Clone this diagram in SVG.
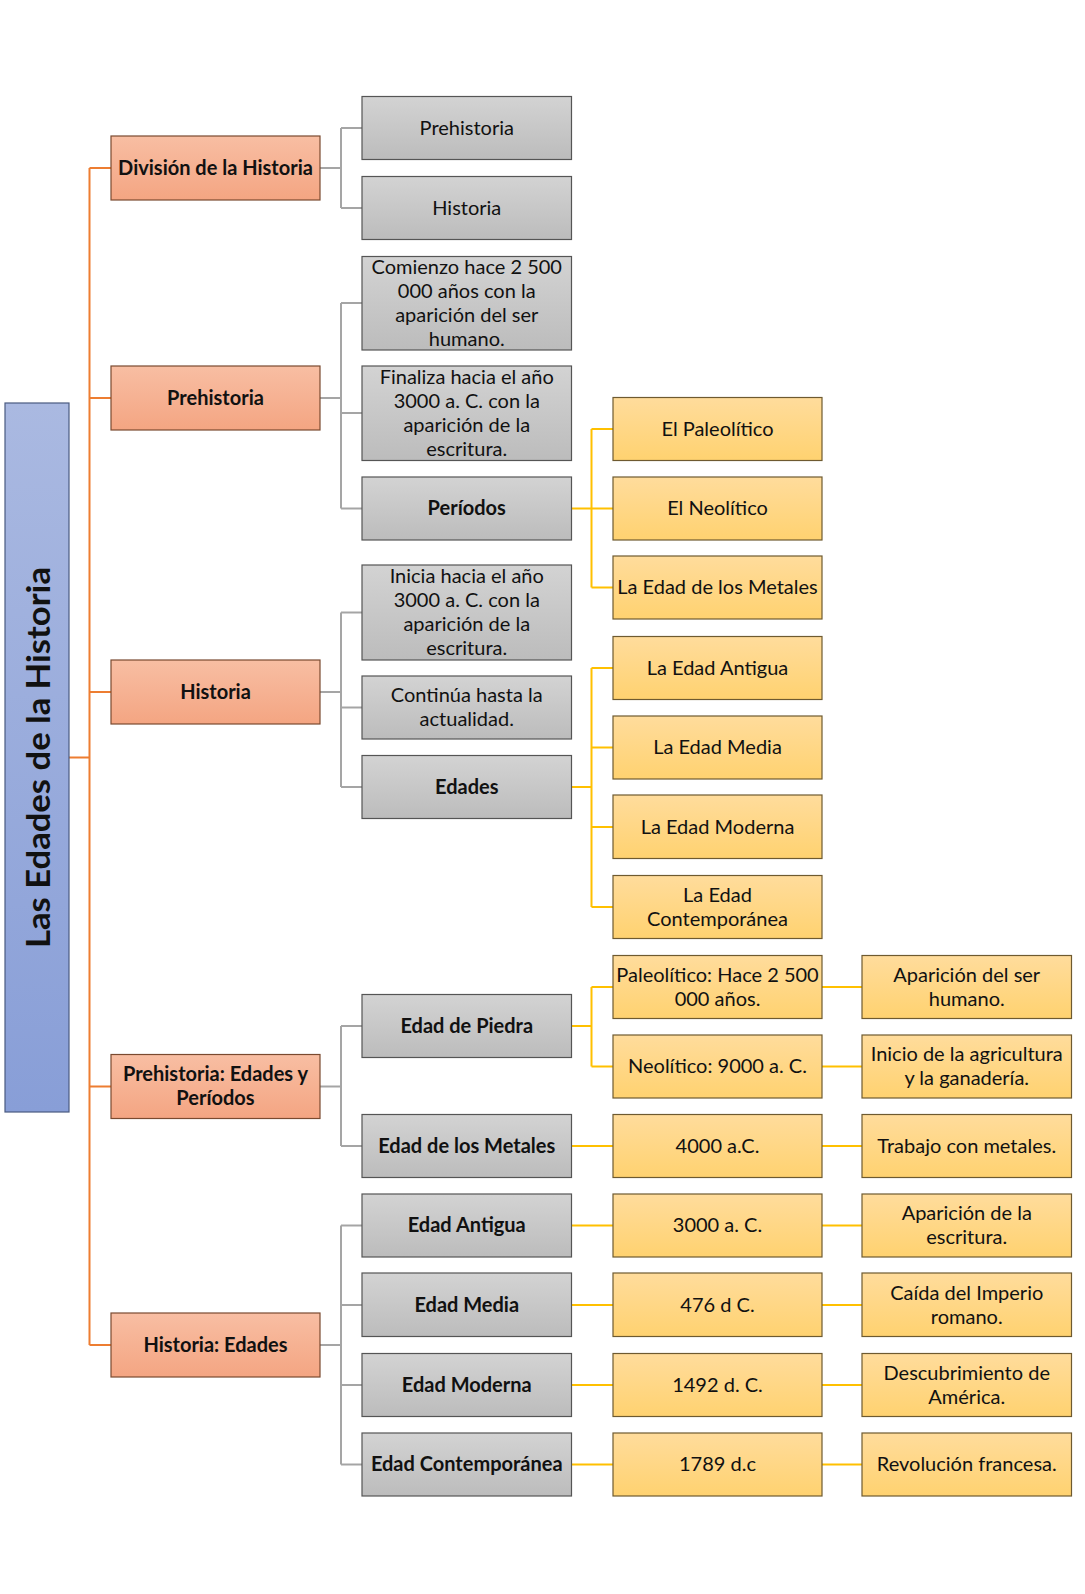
<svg xmlns="http://www.w3.org/2000/svg" width="1085" height="1594" viewBox="0 0 1085 1594">
<defs>
<linearGradient id="gBlue" x1="0" y1="0" x2="0" y2="1"><stop offset="0" stop-color="#AAB9E1"/><stop offset="1" stop-color="#889ED7"/></linearGradient>
<linearGradient id="gOrange" x1="0" y1="0" x2="0" y2="1"><stop offset="0" stop-color="#F8BEA3"/><stop offset="1" stop-color="#F4A582"/></linearGradient>
<linearGradient id="gGray" x1="0" y1="0" x2="0" y2="1"><stop offset="0" stop-color="#D3D3D3"/><stop offset="1" stop-color="#BCBCBC"/></linearGradient>
<linearGradient id="gYellow" x1="0" y1="0" x2="0" y2="1"><stop offset="0" stop-color="#FFDC9C"/><stop offset="1" stop-color="#FFD270"/></linearGradient>
<style>
text{font-family:Lato,"Open Sans","Liberation Sans",sans-serif;font-size:20px;fill:#111;text-anchor:middle;dominant-baseline:central}
text:not(.root){transform:translateY(-1.5px)}
.b{font-weight:bold}
.root{font-size:33px;font-weight:bold}
.blue{fill:url(#gBlue);stroke:#4A5A80;stroke-width:1.2}
.or{fill:url(#gOrange);stroke:#7A4A30;stroke-width:1.2}
.gr{fill:url(#gGray);stroke:#555;stroke-width:1.2}
.ye{fill:url(#gYellow);stroke:#6E5A30;stroke-width:1.2}
.co{fill:none;stroke:#ED7D31;stroke-width:2}
.cg{fill:none;stroke:#A5A5A5;stroke-width:2}
.cy{fill:none;stroke:#FFC000;stroke-width:2}
</style>
</defs>
<rect width="1085" height="1594" fill="#FFFFFF"/>
<g id="connectors">
<path class="co" d="M69 757.5H89.5M89.5 168V1345M89.5 168H111M89.5 398H111M89.5 692H111M89.5 1086.5H111M89.5 1345H111"/>
<path class="cg" d="M320 168H341M341 128V208M341 128H362M341 208H362"/>
<path class="cg" d="M320 398H341M341 303V508.5M341 303H362M341 413H362M341 508.5H362"/>
<path class="cg" d="M320 692H341M341 612.5V787M341 612.5H362M341 707.5H362M341 787H362"/>
<path class="cg" d="M320 1086.5H341M341 1026V1146M341 1026H362M341 1146H362"/>
<path class="cg" d="M320 1345H341M341 1225.5V1464.5M341 1225.5H362M341 1305H362M341 1385H362M341 1464.5H362"/>
<path class="cy" d="M571.5 508.5H591.5M591.5 429V587.5M591.5 429H613M591.5 508.5H613M591.5 587.5H613"/>
<path class="cy" d="M571.5 787H591.5M591.5 668V907M591.5 668H613M591.5 747.5H613M591.5 827H613M591.5 907H613"/>
<path class="cy" d="M571.5 1026H591.5M591.5 987V1066.5M591.5 987H613M591.5 1066.5H613"/>
<path class="cy" d="M571.5 1146H613M571.5 1225.5H613M571.5 1305H613M571.5 1385H613M571.5 1464.5H613"/>
<path class="cy" d="M822 987H862M822 1066.5H862M822 1146H862M822 1225.5H862M822 1305H862M822 1385H862M822 1464.5H862"/>
</g>
<g id="root"><rect class="blue" x="5" y="403" width="64" height="709"/><text class="root" transform="translate(36.5 757.5) rotate(-90)" textLength="381" lengthAdjust="spacingAndGlyphs">Las Edades de la Historia</text></g>
<g id="n-division"><rect class="or" x="111" y="136" width="209" height="64"/><text class="b" x="215.5" y="168">División de la Historia</text></g>
<g id="n-prehistoria"><rect class="or" x="111" y="366" width="209" height="64"/><text class="b" x="215.5" y="398">Prehistoria</text></g>
<g id="n-historia"><rect class="or" x="111" y="660" width="209" height="64"/><text class="b" x="215.5" y="692">Historia</text></g>
<g id="n-prehist-edades"><rect class="or" x="111" y="1054.5" width="209" height="64"/><text class="b" x="215.5" y="1074.5">Prehistoria: Edades y</text><text class="b" x="215.5" y="1098.5">Períodos</text></g>
<g id="n-hist-edades"><rect class="or" x="111" y="1313" width="209" height="64"/><text class="b" x="215.5" y="1345">Historia: Edades</text></g>

<g id="g-prehistoria"><rect class="gr" x="362" y="96.5" width="209.5" height="63"/><text x="466.75" y="128">Prehistoria</text></g>
<g id="g-historia"><rect class="gr" x="362" y="176.5" width="209.5" height="63"/><text x="466.75" y="208">Historia</text></g>
<g id="g-comienzo"><rect class="gr" x="362" y="256.5" width="209.5" height="93.5"/><text x="466.75" y="267">Comienzo hace 2 500</text><text x="466.75" y="291">000 años con la</text><text x="466.75" y="315">aparición del ser</text><text x="466.75" y="339">humano.</text></g>
<g id="g-finaliza"><rect class="gr" x="362" y="366" width="209.5" height="94.5"/><text x="466.75" y="377">Finaliza hacia el año</text><text x="466.75" y="401">3000 a. C. con la</text><text x="466.75" y="425">aparición de la</text><text x="466.75" y="449">escritura.</text></g>
<g id="g-periodos"><rect class="gr" x="362" y="477" width="209.5" height="63"/><text class="b" x="466.75" y="508.5">Períodos</text></g>
<g id="g-inicia"><rect class="gr" x="362" y="565" width="209.5" height="95"/><text x="466.75" y="576.5">Inicia hacia el año</text><text x="466.75" y="600.5">3000 a. C. con la</text><text x="466.75" y="624.5">aparición de la</text><text x="466.75" y="648.5">escritura.</text></g>
<g id="g-continua"><rect class="gr" x="362" y="676" width="209.5" height="63"/><text x="466.75" y="695.5">Continúa hasta la</text><text x="466.75" y="719.5">actualidad.</text></g>
<g id="g-edades"><rect class="gr" x="362" y="755.5" width="209.5" height="63"/><text class="b" x="466.75" y="787">Edades</text></g>
<g id="g-piedra"><rect class="gr" x="362" y="994.5" width="209.5" height="63"/><text class="b" x="466.75" y="1026">Edad de Piedra</text></g>
<g id="g-metales"><rect class="gr" x="362" y="1114.5" width="209.5" height="63"/><text class="b" x="466.75" y="1146">Edad de los Metales</text></g>
<g id="g-antigua"><rect class="gr" x="362" y="1194" width="209.5" height="63"/><text class="b" x="466.75" y="1225.5">Edad Antigua</text></g>
<g id="g-media"><rect class="gr" x="362" y="1273" width="209.5" height="63.5"/><text class="b" x="466.75" y="1305">Edad Media</text></g>
<g id="g-moderna"><rect class="gr" x="362" y="1353.5" width="209.5" height="63"/><text class="b" x="466.75" y="1385">Edad Moderna</text></g>
<g id="g-contemp"><rect class="gr" x="362" y="1433" width="209.5" height="63"/><text class="b" x="466.75" y="1464.5">Edad Contemporánea</text></g>

<g id="y-paleolitico"><rect class="ye" x="613" y="397.5" width="209" height="63"/><text x="717.5" y="429">El Paleolítico</text></g>
<g id="y-neolitico"><rect class="ye" x="613" y="477" width="209" height="63"/><text x="717.5" y="508.5">El Neolítico</text></g>
<g id="y-metales"><rect class="ye" x="613" y="556" width="209" height="63"/><text x="717.5" y="587.5">La Edad de los Metales</text></g>
<g id="y-antigua"><rect class="ye" x="613" y="636.5" width="209" height="63"/><text x="717.5" y="668">La Edad Antigua</text></g>
<g id="y-media"><rect class="ye" x="613" y="716" width="209" height="63"/><text x="717.5" y="747.5">La Edad Media</text></g>
<g id="y-moderna"><rect class="ye" x="613" y="795" width="209" height="63.5"/><text x="717.5" y="827">La Edad Moderna</text></g>
<g id="y-contemp"><rect class="ye" x="613" y="875.5" width="209" height="63"/><text x="717.5" y="895">La Edad</text><text x="717.5" y="919">Contemporánea</text></g>
<g id="y-paleo-hace"><rect class="ye" x="613" y="955.5" width="209" height="63"/><text x="717.5" y="975">Paleolítico: Hace 2 500</text><text x="717.5" y="999">000 años.</text></g>
<g id="y-neo-9000"><rect class="ye" x="613" y="1035" width="209" height="63"/><text x="717.5" y="1066.5">Neolítico: 9000 a. C.</text></g>
<g id="y-4000"><rect class="ye" x="613" y="1114.5" width="209" height="63"/><text x="717.5" y="1146">4000 a.C.</text></g>
<g id="y-3000"><rect class="ye" x="613" y="1194" width="209" height="63"/><text x="717.5" y="1225.5">3000 a. C.</text></g>
<g id="y-476"><rect class="ye" x="613" y="1273" width="209" height="63.5"/><text x="717.5" y="1305">476 d C.</text></g>
<g id="y-1492"><rect class="ye" x="613" y="1353.5" width="209" height="63"/><text x="717.5" y="1385">1492 d. C.</text></g>
<g id="y-1789"><rect class="ye" x="613" y="1433" width="209" height="63"/><text x="717.5" y="1464.5">1789 d.c</text></g>

<g id="z-aparicion-ser"><rect class="ye" x="862" y="955.5" width="209.5" height="63"/><text x="966.75" y="975">Aparición del ser</text><text x="966.75" y="999">humano.</text></g>
<g id="z-agricultura"><rect class="ye" x="862" y="1035" width="209.5" height="63"/><text x="966.75" y="1054.5">Inicio de la agricultura</text><text x="966.75" y="1078.5">y la ganadería.</text></g>
<g id="z-metales"><rect class="ye" x="862" y="1114.5" width="209.5" height="63"/><text x="966.75" y="1146">Trabajo con metales.</text></g>
<g id="z-escritura"><rect class="ye" x="862" y="1194" width="209.5" height="63"/><text x="966.75" y="1213.5">Aparición de la</text><text x="966.75" y="1237.5">escritura.</text></g>
<g id="z-imperio"><rect class="ye" x="862" y="1273" width="209.5" height="63.5"/><text x="966.75" y="1293">Caída del Imperio</text><text x="966.75" y="1317">romano.</text></g>
<g id="z-america"><rect class="ye" x="862" y="1353.5" width="209.5" height="63"/><text x="966.75" y="1373">Descubrimiento de</text><text x="966.75" y="1397">América.</text></g>
<g id="z-revolucion"><rect class="ye" x="862" y="1433" width="209.5" height="63"/><text x="966.75" y="1464.5">Revolución francesa.</text></g>
</svg>
